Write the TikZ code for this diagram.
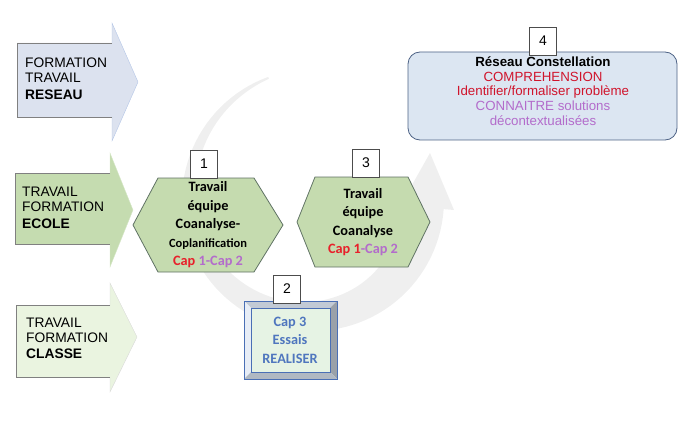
\documentclass[tikz,border=0pt]{standalone}
\usepackage{fontspec}
\setmainfont{Liberation Sans}
\newfontfamily\calibri{Carlito}
\usetikzlibrary{positioning}

\definecolor{reseaufill}{HTML}{DCE2EF}
\definecolor{reseauhead}{HTML}{B4C6E7}
\definecolor{ecolefill}{HTML}{C5DCB0}
\definecolor{classefill}{HTML}{EAF4E0}
\definecolor{hexgreen}{HTML}{C5DBAF}
\definecolor{hexline}{HTML}{5F7264}
\definecolor{netfill}{HTML}{DCE6F2}
\definecolor{netline}{HTML}{4D6285}
\definecolor{capred}{HTML}{E8202A}
\definecolor{netred}{HTML}{D0142C}
\definecolor{cappurple}{HTML}{B36CCB}
\definecolor{capblue}{HTML}{4F76BE}
\definecolor{bevelline}{HTML}{4A6FB5}
\definecolor{facegreen}{HTML}{E6F3E4}
\definecolor{arcgray}{HTML}{EFEFEF}

\begin{document}
\begin{tikzpicture}[x=1pt, y=-1pt,
    sidearrow/.style={draw=black!50, line width=0.6pt},
    sidetext/.style={align=left, anchor=west, inner sep=0pt, font=\fontsize{13.8}{15}\selectfont},
    hexshape/.style={draw=hexline, fill=hexgreen, line width=0.8pt},
    hextext/.style={align=center, inner sep=0pt, font=\calibri\bfseries\fontsize{14.3}{18.5}\selectfont},
    numbox/.style={draw=black!70, fill=white, line width=0.6pt, minimum width=27pt, minimum height=28pt, inner sep=0pt, font=\fontsize{14}{16}\selectfont}
  ]
  \useasboundingbox (0,0) rectangle (681,428);

  % cycle arrow in the background
  \fill[arcgray] plot[domain=110:356, samples=80] ({313+131*cos(\x)}, {200-131*sin(\x)})
    -- (454,210) -- (430,153) -- (399,208)
    -- plot[domain=356:110, samples=80] ({313+(129-42*(\x-110)/246)*cos(\x)}, {200-(129-42*(\x-110)/246)*sin(\x)})
    -- cycle;

  % left arrows
  \fill[reseaufill] (17,43) -- (112,43) -- (112,23) -- (138,82) -- (112,141) -- (112,117) -- (17,117) -- cycle;
  \draw[reseauhead] (112,43) -- (112,23) -- (138,82) -- (112,141) -- (112,117);
  \draw[sidearrow] (112,43) -- (17,43) -- (17,117) -- (112,117);
  \node[sidetext] (reseau) at (25,79) {FORMATION\\ TRAVAIL\\[2pt] \textbf{RESEAU}};

  \fill[ecolefill] (15,173) -- (110,173) -- (110,153) -- (133,210) -- (110,267) -- (110,244) -- (15,244) -- cycle;
  \draw[ecolefill!70!white] (110,173) -- (110,153) -- (133,210) -- (110,267) -- (110,244);
  \draw[sidearrow] (110,173) -- (15,173) -- (15,244) -- (110,244);
  \node[sidetext] (ecole) at (22,208) {TRAVAIL\\ FORMATION\\[2pt] \textbf{ECOLE}};

  \fill[classefill] (16,305) -- (110,305) -- (110,283) -- (137,337) -- (110,392) -- (110,377) -- (16,377) -- cycle;
  \draw[black!15] (110,305) -- (110,283) -- (137,337) -- (110,392) -- (110,377);
  \draw[sidearrow] (110,305) -- (16,305) -- (16,377) -- (110,377);
  \node[sidetext] (classe) at (26,338) {TRAVAIL\\ FORMATION\\[1pt] \textbf{CLASSE}};

  % hexagons
  \draw[hexshape] (133,225) -- (158,178) -- (254,178) -- (283,225) -- (254,272) -- (158,272) -- cycle;
  \node[hextext] (coplan) at (208,225) {Travail\\ équipe\\ Coanalyse-\\ {\fontsize{12.5}{18.5}\selectfont Coplanification}\\ \textcolor{capred}{Cap} \textcolor{cappurple}{1-Cap 2}};

  \draw[hexshape] (297,222) -- (315,177) -- (408,177) -- (430,222) -- (408,267) -- (315,267) -- cycle;
  \node[hextext] (coana) at (363,222) {Travail\\ équipe\\ Coanalyse\\ \textcolor{capred}{Cap 1}\textcolor{cappurple}{-Cap 2}};

  % bevelled box
  \fill[black!12!netfill] (244,301) -- (337,301) -- (330,308) -- (251,308) -- cycle;
  \fill[netfill!70!white] (244,301) -- (251,308) -- (251,372) -- (244,379) -- cycle;
  \fill[black!30!netfill] (337,301) -- (337,379) -- (330,372) -- (330,308) -- cycle;
  \fill[black!20!netfill] (244,379) -- (251,372) -- (330,372) -- (337,379) -- cycle;
  \draw[bevelline, fill=facegreen, line width=0.4pt] (251,308) rectangle (330,372);
  \draw[bevelline, line width=0.8pt] (244,301) rectangle (337,379);
  \node[hextext, text=capblue] (essais) at (290,340) {Cap 3\\ Essais\\ REALISER};

  % network box
  \draw[netline, fill=netfill, rounded corners=12pt, line width=0.8pt] (408,52) rectangle (677,140);
  \node[align=center, inner sep=0pt, font=\fontsize{13.3}{14.6}\selectfont] (constel) at (543,91)
    {\textbf{Réseau Constellation}\\ \textcolor{netred}{COMPREHENSION}\\ \textcolor{netred}{Identifier/formaliser problème}\\ \textcolor{cappurple}{CONNAITRE solutions}\\ \textcolor{cappurple}{décontextualisées}};

  % step numbers
  \node[numbox] (n1) at (204,164) {1};
  \node[numbox] (n2) at (287,289) {2};
  \node[numbox] (n3) at (366,163) {3};
  \node[numbox] (n4) at (543,41) {4};
\end{tikzpicture}
\end{document}
